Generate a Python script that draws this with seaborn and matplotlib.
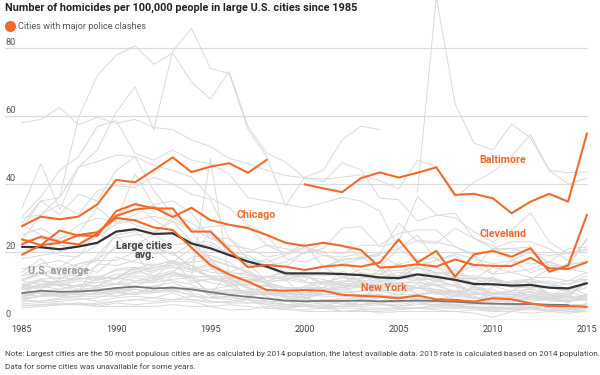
import matplotlib
matplotlib.use('Agg')
import matplotlib.pyplot as plt
import pandas as pd
import numpy as np
import seaborn as sns

years = list(range(1985, 2016))
N = None

# homicides per 100,000, 1985..2015 (None = no data that year)
gray_cities = {
    'Washington': [23.5, 31.0, 36.2, 59.5, 71.9, 77.8, 80.6, 75.2, 78.5, 70.0, 65.0, 73.1, 56.9, 49.1, 46.4, 41.8, 40.6, 46.2, 44.2, 35.8, 35.4, 29.1, 30.8, 31.4, 24.0, 21.9, 17.5, 13.9, 15.9, 15.9, 24.0],
    'New Orleans': [27.0, 35.0, 36.0, 45.0, 50.0, 61.0, 68.6, 56.0, 79.0, 85.8, 74.0, 72.5, 56.0, 48.0, 33.5, 42.0, 44.0, 53.0, 57.0, 56.0, N, 37.6, 95.0, 63.6, 52.0, 50.0, 57.6, 53.5, 44.0, 40.0, 41.7],
    'Detroit': [58.0, 59.0, 62.5, 57.4, 59.6, 57.8, 59.0, 56.6, 56.0, 53.0, 51.0, 47.5, 46.0, 44.0, 42.5, 41.8, 41.4, 42.0, 42.7, 41.0, 38.5, 47.0, 45.0, 36.0, 40.5, 43.5, 48.2, 54.6, 44.0, 43.3, 43.6],
    'Atlanta': [30.4, 36.3, 44.0, 48.0, 56.9, 58.6, 49.0, 47.0, 50.0, 47.0, 46.0, 43.0, 36.0, 35.0, 34.0, 33.0, 34.5, 36.0, 35.0, 32.0, 21.0, 25.0, 17.5, 19.0, 15.5, 21.0, 21.0, 19.5, 19.0, 19.5, 21.0],
    'Miami': [33.0, 46.0, 32.5, 45.0, 46.6, 48.5, 48.0, 45.5, 44.0, 42.0, 36.0, 33.0, 28.0, 25.0, 18.0, 17.0, 19.0, 18.5, 19.5, 17.0, 12.0, 16.0, 17.5, 19.5, 18.0, 16.5, 17.5, 16.5, 17.0, 15.0, 14.0],
    'Oakland': [30.0, 31.0, 34.0, 31.0, 38.0, 39.5, 39.0, 42.0, 40.0, 37.0, 35.5, 24.0, 18.0, 16.0, 15.5, 20.0, 21.0, 27.0, 27.5, 21.5, 23.0, 36.3, 31.0, 30.0, 26.0, 23.0, 26.5, 31.5, 23.0, 19.5, 20.5],
    'Dallas': [28.5, 35.0, 31.0, 37.0, 35.0, 44.0, 48.0, 38.0, 31.0, 28.5, 25.0, 20.0, 19.0, 16.0, 17.0, 20.0, 20.0, 16.5, 18.0, 19.0, 16.0, 15.0, 16.0, 13.0, 13.0, 12.0, 11.0, 12.0, 11.0, 9.0, 10.5],
    'Memphis': [18.0, 19.0, 20.0, 22.0, 25.0, 24.0, 25.0, 25.5, 30.0, 27.0, 24.0, 24.0, 20.0, 22.0, 21.0, 19.5, 23.0, 22.0, 18.5, 19.5, 21.0, 23.5, 23.0, 21.5, 19.0, 13.5, 17.5, 20.0, 17.0, 21.0, 21.5],
    'Kansas City': [25.0, 27.0, 24.0, 25.5, 33.0, 28.5, 31.0, 34.0, 35.0, 31.5, 24.0, 22.0, 21.0, 18.5, 19.5, 22.5, 15.5, 18.0, 18.0, 19.5, 28.5, 23.0, 22.5, 27.0, 24.0, 21.0, 23.0, 23.0, 21.0, 17.5, 23.5],
    'Houston': [20.0, 22.5, 19.0, 18.5, 26.0, 31.0, 34.0, 29.5, 26.0, 23.0, 17.0, 14.0, 13.0, 12.5, 12.0, 13.0, 13.0, 13.5, 13.5, 13.5, 16.3, 18.0, 15.5, 12.0, 12.5, 11.5, 9.5, 9.5, 10.0, 10.5, 13.0],
    'Los Angeles': [23.5, 24.0, 22.0, 21.5, 24.5, 28.2, 29.5, 30.5, 29.0, 23.0, 23.0, 19.5, 16.5, 11.5, 11.5, 14.5, 15.5, 17.5, 13.5, 13.5, 12.5, 12.5, 10.0, 10.0, 8.0, 7.5, 7.5, 7.5, 6.5, 6.5, 7.0],
    'Philadelphia': [11.5, 13.5, 15.5, 19.0, 22.0, 31.0, 28.0, 26.0, 29.0, 26.5, 27.5, 28.0, 27.5, 22.0, 19.5, 21.5, 20.0, 19.5, 22.0, 22.0, 25.5, 26.5, 26.5, 21.5, 19.5, 20.5, 21.0, 21.5, 16.0, 16.0, 17.5],
    'Fort Worth': [28.0, 25.0, 23.5, 28.0, 30.0, 29.0, 43.0, 33.5, 31.0, 26.0, 18.0, 16.0, 14.0, 11.0, 12.0, 11.0, 11.0, 12.5, 11.5, 9.0, 11.0, 7.5, 8.0, 8.5, 6.5, 6.0, 6.5, 7.5, 6.0, 5.5, 6.5],
    'Milwaukee': [9.5, 10.5, 11.0, 13.0, 19.0, 25.0, 26.0, 22.0, 19.0, 22.5, 22.0, 19.5, 18.0, 17.0, 19.0, 21.0, 19.0, 17.5, 18.5, 15.5, 21.0, 17.5, 18.5, 12.5, 12.0, 15.5, 14.0, 15.0, 17.0, 15.5, 24.0],
    'Minneapolis': [9.5, 7.5, 7.5, 8.5, 16.5, 16.0, 17.5, 21.0, 16.5, 17.0, 26.5, 21.5, 16.0, 15.5, 13.0, 13.0, 11.0, 12.5, 12.0, 14.5, 12.5, 15.5, 12.0, 10.0, 4.5, 10.0, 8.5, 11.0, 7.5, 7.0, 11.0],
    'Boston': [14.0, 18.0, 13.0, 16.5, 17.5, 25.0, 19.5, 12.5, 17.0, 14.5, 16.0, 10.0, 7.5, 5.5, 5.5, 7.0, 11.0, 10.5, 6.5, 10.0, 12.0, 12.5, 11.5, 10.0, 8.0, 12.0, 10.0, 9.5, 6.5, 8.5, 6.5],
    'Long Beach': [15.0, 16.0, 15.0, 16.5, 18.0, 21.0, 22.0, 25.0, 22.0, 23.0, 18.0, 12.0, 10.0, 10.0, 8.0, 9.0, 9.5, 14.5, 11.5, 9.5, 10.5, 12.0, 8.0, 8.5, 7.5, 8.0, 7.5, 7.0, 6.5, 5.5, 6.5],
    'Oklahoma City': [8.0, 10.5, 11.5, 12.0, 12.5, 10.5, 10.0, 12.0, 14.0, 12.5, 47.5, 12.5, 9.0, 9.0, 8.0, 8.0, 7.5, 8.0, 8.5, 9.0, 8.5, 9.5, 7.5, 8.0, 9.5, 9.0, 6.5, 9.5, 9.5, 8.5, 11.0],
    'Tulsa': [9.0, 10.0, 9.0, 10.5, 10.0, 12.5, 11.5, 11.5, 14.0, 13.0, 12.5, 10.5, 12.0, 11.0, 7.5, 7.5, 8.5, 11.0, 9.5, 11.5, 12.5, 15.5, 14.0, 13.5, 16.0, 13.5, 14.0, 12.5, 12.5, 11.5, 14.0],
    'Sacramento': [10.5, 9.5, 10.5, 12.0, 12.5, 14.5, 15.0, 14.0, 17.5, 16.0, 12.5, 12.0, 9.5, 8.0, 7.5, 8.0, 9.0, 10.0, 11.5, 11.5, 10.5, 9.5, 9.0, 8.5, 7.5, 8.0, 7.5, 7.5, 6.5, 8.0, 9.5],
    'San Francisco': [12.0, 14.0, 11.0, 12.5, 11.5, 13.5, 13.5, 16.0, 17.5, 11.5, 12.0, 11.0, 7.5, 7.5, 7.0, 7.0, 8.5, 8.0, 8.5, 11.0, 12.5, 11.5, 12.5, 12.0, 5.5, 6.5, 6.5, 8.5, 5.5, 5.5, 6.0],
    'Denver': [10.5, 12.0, 10.0, 8.5, 12.5, 12.5, 15.0, 16.5, 15.5, 15.0, 16.5, 12.0, 11.0, 8.5, 6.5, 6.0, 8.5, 9.0, 7.0, 9.0, 11.0, 9.5, 8.0, 6.0, 5.5, 5.5, 5.5, 6.5, 6.5, 5.0, 7.5],
    'Jacksonville': [13.0, 16.5, 17.5, 15.5, 14.0, 18.5, 17.0, 16.0, 17.5, 15.0, 13.0, 12.5, 12.5, 11.0, 9.5, 9.5, 9.5, 11.0, 12.5, 12.0, 13.0, 13.5, 14.0, 12.5, 11.0, 12.0, 10.5, 11.5, 10.5, 11.5, 12.0],
    'Indianapolis': [6.0, 7.0, 8.0, 7.5, 9.5, 8.5, 11.5, 12.5, 13.5, 12.5, 7.5, 14.0, 16.0, 18.0, 14.0, 13.5, 13.5, 14.0, 9.5, 12.5, 13.0, 17.0, 13.5, 14.5, 12.0, 12.5, 10.5, 12.0, 15.0, 16.5, 17.0],
    'Columbus': [8.0, 8.5, 9.0, 10.0, 10.0, 10.5, 14.5, 13.0, 14.5, 11.0, 12.0, 11.5, 7.0, 8.0, 5.5, 10.0, 11.5, 11.0, 14.0, 12.5, 14.0, 13.5, 11.0, 15.0, 10.0, 11.5, 11.0, 11.0, 11.5, 10.5, 12.0],
    'Charlotte': [10.0, 9.0, 12.0, 15.5, 17.5, 17.5, 20.0, 21.0, 19.5, 16.0, 14.0, 13.5, 11.5, 12.5, 14.0, 12.5, 12.0, 10.0, 10.5, 10.0, 11.0, 11.0, 10.5, 8.0, 8.5, 6.0, 7.0, 6.5, 6.0, 5.5, 7.0],
    'Nashville': [11.5, 10.5, 10.5, 10.0, 12.0, 12.5, 14.0, 15.5, 16.0, 17.0, 17.5, 16.0, 14.5, 11.5, 13.0, 13.0, 10.5, 10.5, 11.0, 13.0, 17.0, 12.0, 12.0, 12.5, 12.0, 10.5, 11.5, 12.0, 7.5, 6.5, 12.0],
    'Louisville': [9.5, 12.0, 12.5, 12.0, 13.0, 12.0, 15.5, 14.5, 15.5, 14.0, 15.0, 14.0, 13.5, 10.5, 9.0, 9.5, 9.0, 9.0, 10.0, 8.5, 9.0, 9.5, 11.5, 12.0, 9.5, 8.0, 7.5, 9.5, 7.0, 7.0, 12.0],
    'Las Vegas': [9.0, 10.0, 10.5, 10.0, 11.0, 10.5, 11.0, 11.0, 12.0, 12.5, 13.0, 12.5, 11.5, 11.0, 9.5, 7.5, 9.0, 9.5, 10.5, 9.5, 10.0, 9.5, 9.0, 7.5, 6.5, 6.5, 5.5, 5.5, 6.0, 5.5, 7.5],
    'Phoenix': [10.0, 11.5, 10.0, 11.5, 11.0, 12.0, 13.0, 12.5, 14.0, 18.5, 19.0, 17.0, 13.5, 12.5, 14.5, 11.5, 15.5, 12.5, 15.0, 14.5, 14.5, 15.5, 13.5, 11.0, 8.0, 8.0, 8.0, 8.0, 7.5, 7.0, 7.0],
    'Tucson': [7.5, 7.0, 8.0, 8.0, 7.5, 8.0, 7.5, 10.0, 8.5, 9.5, 9.0, 10.0, 10.5, 10.0, 9.5, 9.5, 11.0, 11.5, 11.0, 8.5, 7.5, 9.5, 10.5, 10.5, 8.0, 7.0, 7.0, 8.5, 6.5, 7.0, 5.5],
    'Albuquerque': [10.0, 11.5, 11.0, 9.0, 9.5, 10.5, 12.5, 11.5, 13.0, 12.5, 11.0, 10.0, 11.0, 12.5, 12.0, 6.5, 8.0, 8.5, 10.0, 9.0, 9.0, 10.5, 8.0, 7.0, 8.0, 7.0, 6.0, 6.0, 6.0, 5.5, 7.5],
    'Fresno': [12.0, 13.5, 12.0, 14.0, 12.0, 15.0, 15.5, 15.0, 17.0, 21.0, 15.5, 13.0, 11.5, 13.0, 12.5, 11.5, 9.0, 9.5, 10.5, 10.5, 11.0, 11.0, 10.0, 8.5, 9.0, 8.0, 8.5, 11.0, 7.0, 9.5, 7.5],
    'San Antonio': [13.0, 14.0, 13.5, 13.0, 16.0, 22.0, 21.5, 19.5, 20.0, 15.0, 12.5, 11.5, 9.5, 8.0, 8.0, 6.5, 7.5, 7.5, 7.5, 7.5, 6.5, 7.0, 8.5, 8.0, 7.0, 5.5, 6.0, 7.0, 6.0, 7.0, 6.0],
    'El Paso': [5.5, 5.5, 6.0, 6.5, 5.5, 6.5, 7.0, 6.5, 8.0, 6.0, 5.0, 5.5, 6.5, 3.5, 3.5, 4.0, 4.5, 2.5, 3.0, 2.0, 2.5, 2.5, 2.5, 2.5, 2.0, 0.8, 2.5, 3.5, 3.0, 3.0, 2.5],
    'Austin': [6.0, 7.0, 7.5, 7.5, 8.0, 8.5, 7.5, 8.0, 8.5, 7.5, 5.5, 5.0, 6.0, 4.5, 4.0, 4.0, 3.5, 3.5, 3.5, 3.5, 3.5, 3.5, 4.0, 3.5, 3.5, 4.0, 3.0, 3.0, 3.0, 3.5, 2.5],
    'San Diego': [6.5, 8.5, 7.5, 8.0, 10.0, 12.5, 15.5, 12.0, 11.5, 10.5, 7.0, 6.5, 6.0, 4.5, 4.0, 4.5, 4.0, 4.0, 4.0, 4.5, 4.0, 4.5, 4.5, 4.0, 3.5, 3.0, 3.0, 3.5, 3.0, 2.5, 2.5],
    'San Jose': [5.0, 4.5, 4.5, 5.0, 4.0, 5.0, 4.5, 5.0, 5.5, 5.5, 4.0, 3.0, 3.0, 4.0, 3.5, 2.5, 2.5, 2.5, 2.5, 2.5, 3.0, 3.5, 3.5, 3.5, 3.5, 2.5, 4.0, 4.5, 3.5, 3.0, 3.3],
    'Seattle': [7.0, 8.0, 7.0, 8.0, 9.0, 9.5, 8.0, 8.5, 13.0, 12.5, 8.0, 9.0, 8.0, 10.5, 7.0, 6.5, 4.5, 4.0, 5.5, 4.5, 4.5, 5.5, 4.0, 4.5, 3.5, 3.5, 3.5, 3.5, 2.5, 3.5, 3.5],
    'Portland': [7.0, 8.5, 7.0, 9.0, 8.5, 7.0, 8.0, 9.0, 10.0, 8.0, 6.5, 9.0, 8.5, 7.0, 4.5, 4.0, 3.5, 4.0, 4.5, 5.0, 3.5, 3.5, 4.5, 4.5, 3.5, 3.5, 3.5, 3.5, 2.5, 3.0, 5.0],
    'Virginia Beach': [3.5, 4.0, 4.5, 4.5, 4.0, 4.0, 4.0, 4.0, 4.5, 4.0, 4.0, 4.5, 4.0, 3.5, 3.0, 3.0, 3.5, 2.5, 3.0, 3.0, 3.5, 3.5, 3.0, 2.5, 3.0, 2.5, 2.5, 2.0, 2.5, 2.0, 2.5],
    'Omaha': [6.0, 5.5, 6.5, 7.0, 7.0, 7.0, 8.0, 8.5, 9.0, 9.5, 7.5, 7.5, 8.0, 7.5, 8.0, 7.5, 7.0, 7.0, 6.5, 7.0, 7.5, 7.5, 8.5, 7.0, 10.0, 8.0, 8.5, 9.0, 8.0, 7.5, 11.0],
    'Colorado Springs': [4.0, 4.5, 5.0, 4.5, 5.0, 5.5, 6.0, 5.5, 6.0, 6.0, 5.5, 5.0, 5.0, 5.5, 4.5, 4.5, 4.0, 5.5, 4.5, 5.0, 4.0, 5.0, 4.5, 4.0, 4.0, 3.5, 4.5, 4.5, 4.0, 4.5, 4.5],
    'Raleigh': [7.5, 8.0, 7.0, 7.0, 8.0, 9.0, 9.0, 8.0, 9.5, 8.5, 9.0, 8.5, 8.5, 8.0, 7.0, 6.5, 5.5, 6.5, 6.0, 5.5, 7.0, 6.0, 5.5, 5.0, 5.0, 5.0, 4.5, 3.5, 4.5, 4.5, 4.0],
    'Mesa': [4.5, 4.0, 4.5, 5.0, 4.5, 5.5, 6.0, 6.5, 6.0, 7.0, 6.5, 7.0, 6.0, 5.5, 5.5, 4.5, 5.0, 5.0, 4.5, 5.5, 5.0, 6.5, 5.5, 4.5, 3.5, 3.0, 3.5, 3.5, 4.0, 3.5, 3.5],
    'Wichita': [6.5, 7.0, 7.0, 8.0, 7.5, 8.5, 9.5, 10.0, 11.0, 9.0, 8.5, 8.0, 8.0, 8.5, 6.5, 5.5, 6.0, 6.0, 5.5, 6.5, 7.0, 6.5, 6.0, 7.0, 6.5, 6.0, 5.0, 7.0, 6.5, 6.0, 7.5],
    'Arlington': [6.0, 5.0, 5.5, 6.0, 6.5, 8.0, 9.0, 8.5, 9.0, 7.0, 6.5, 6.0, 5.0, 5.0, 4.5, 5.0, 6.0, 4.5, 4.5, 5.0, 5.5, 5.5, 5.0, 4.5, 4.5, 4.5, 4.5, 4.0, 4.0, 3.5, 3.5],
}

clash_cities = {
    'Baltimore': [27.6, 30.4, 29.6, 30.4, 34.0, 41.2, 40.5, 44.1, 47.8, 43.5, 45.1, 46.1, 43.3, 47.1, N, 39.9, 38.7, 37.6, 41.7, 43.4, 41.9, 43.3, 44.9, 36.8, 37.1, 35.8, 31.4, 34.8, 37.1, 34.8, 54.9],
    'Chicago': [22.3, 24.5, 23.0, 22.2, 25.4, 30.6, 32.5, 33.1, 30.3, 33.0, 29.4, 28.0, 27.0, 25.0, 22.7, 21.8, 22.7, 21.8, 20.6, 15.4, 15.7, 16.4, 15.7, 17.8, 16.2, 15.9, 15.9, 18.3, 15.2, 15.0, 17.0],
    'Cleveland': [23.7, 22.0, 26.3, 24.8, 24.8, 32.0, 34.1, 32.8, 32.8, 26.0, 26.0, 20.6, 15.5, 16.2, 15.7, 14.7, 15.7, 16.2, 15.7, 16.9, 23.7, 16.9, 20.3, 12.7, 19.3, 20.3, 18.6, 21.1, 14.2, 16.0, 30.9],
    'New York': [19.2, 22.0, 22.7, 25.0, 25.8, 30.0, 29.3, 27.2, 26.5, 21.3, 16.2, 13.4, 11.3, 8.8, 8.6, 8.8, 8.6, 7.4, 7.1, 6.9, 6.4, 7.2, 6.1, 5.9, 5.4, 6.4, 6.1, 4.9, 4.1, 4.1, 3.9],
}

large_cities_avg = [21.5, 21.4, 20.8, 21.6, 22.7, 26.0, 26.7, 25.3, 25.5, 22.5, 21.1, 19.1, 17.2, 15.7, 13.7, 13.7, 13.7, 13.5, 13.2, 12.5, 12.3, 13.4, 12.7, 11.8, 10.6, 10.5, 10.1, 10.3, 9.5, 9.3, 10.8]
us_avg = [7.9, 8.6, 8.3, 8.4, 8.7, 9.4, 9.8, 9.3, 9.5, 9.0, 8.2, 7.4, 6.8, 6.3, 5.7, 5.5, 5.6, 5.6, 5.7, 5.5, 5.6, 5.7, 5.6, 5.4, 5.0, 4.8, 4.7, 4.7, 4.5, 4.4, N]

y_ticks = [0, 20, 40, 60, 80]
x_ticks = [1985, 1990, 1995, 2000, 2005, 2010, 2015]


def to_long(series):
    # one 'seg' per unbroken run so that missing years leave a gap
    rows = []
    seg = 0
    for name, vals in series.items():
        seg += 1
        for yr, v in zip(years, vals):
            if v is None:
                seg += 1
                continue
            rows.append((name, seg, yr, v))
    return pd.DataFrame(rows, columns=['city', 'seg', 'year', 'rate'])


gray_df = to_long(gray_cities)
clash_df = to_long(clash_cities)
avg_df = to_long({'Large cities avg.': large_cities_avg})
us_df = to_long({'U.S. average': us_avg})

sns.set_style('white')
plt.rcParams['font.family'] = ['Roboto', 'DejaVu Sans']

ORANGE = '#f26a2a'
fig = plt.figure(figsize=(6, 3.75), dpi=100)
ax = fig.add_axes([5 / 600, 55 / 375, 582.5 / 600, 320 / 375])

for v in y_ticks[1:]:
    ax.axhline(v, color='#dcdcdc', lw=0.9, zorder=0)
ax.axhline(0, color='#c8c8c8', lw=1.0, zorder=0)

sns.lineplot(data=gray_df, x='year', y='rate', units='seg', estimator=None,
             color='#dadada', linewidth=0.7, ax=ax, legend=False, zorder=1)
sns.lineplot(data=us_df, x='year', y='rate', units='seg', estimator=None,
             color='#777777', linewidth=1.3, ax=ax, legend=False, zorder=2)
sns.lineplot(data=avg_df, x='year', y='rate', units='seg', estimator=None,
             color='#333333', linewidth=1.6, ax=ax, legend=False, zorder=3)
sns.lineplot(data=clash_df, x='year', y='rate', units='seg', estimator=None,
             color=ORANGE, linewidth=1.5, ax=ax, legend=False, zorder=4)

ax.set_xlim(1984.097, 2015.03)
ax.set_ylim(0, 94.1)
for s in ax.spines.values():
    s.set_visible(False)
ax.set_xlabel('')
ax.set_ylabel('')
ax.set_yticks([])
ax.set_xticks(x_ticks)
ax.set_xticklabels([str(x) for x in x_ticks])
ax.tick_params(axis='x', length=0, pad=3.5, labelsize=6.6, labelcolor='#444444')

for v in y_ticks:
    ax.text(1984.12, v + 1.0, str(v), fontsize=6.6, color='#555555',
            ha='left', va='baseline')

lab = dict(fontsize=7.7, fontweight='bold')
ax.text(2009.3, 46.3, 'Baltimore', color=ORANGE, ha='left', va='baseline', **lab)
ax.text(1996.4, 30.0, 'Chicago', color=ORANGE, ha='left', va='baseline', **lab)
ax.text(2009.3, 24.5, 'Cleveland', color=ORANGE, ha='left', va='baseline', **lab)
ax.text(2003.0, 8.6, 'New York', color=ORANGE, ha='left', va='baseline', **lab)
ax.text(1991.5, 18.2, 'Large cities\navg.', color='#444444', ha='center',
        va='baseline', linespacing=0.95, **lab)
ax.text(1985.3, 13.6, 'U.S. average', color='#999999', ha='left', va='baseline', **lab)

fig.text(5 / 600, 1 - 11 / 375, 'Number of homicides per 100,000 people in large U.S. cities since 1985',
         fontsize=7.85, fontweight='bold', color='#222222', ha='left', va='baseline')
fig.lines.append(plt.Line2D([9.5 / 600], [1 - 26 / 375], marker='o', markersize=7,
                            color=ORANGE, transform=fig.transFigure))
fig.text(18 / 600, 1 - 29 / 375, 'Cities with major police clashes', fontsize=6.6,
         color='#555555', ha='left', va='baseline')

fig.text(5 / 600, 1 - 356 / 375,
         'Note: Largest cities are the 50 most populous cities are as calculated by 2014 population, '
         'the latest available data. 2015 rate is calculated based on 2014 population.',
         fontsize=5.85, color='#444444', ha='left', va='baseline')
fig.text(5 / 600, 1 - 369 / 375, 'Data for some cities was unavailable for some years.',
         fontsize=5.85, color='#444444', ha='left', va='baseline')

fig.savefig('out.png', dpi=100)
